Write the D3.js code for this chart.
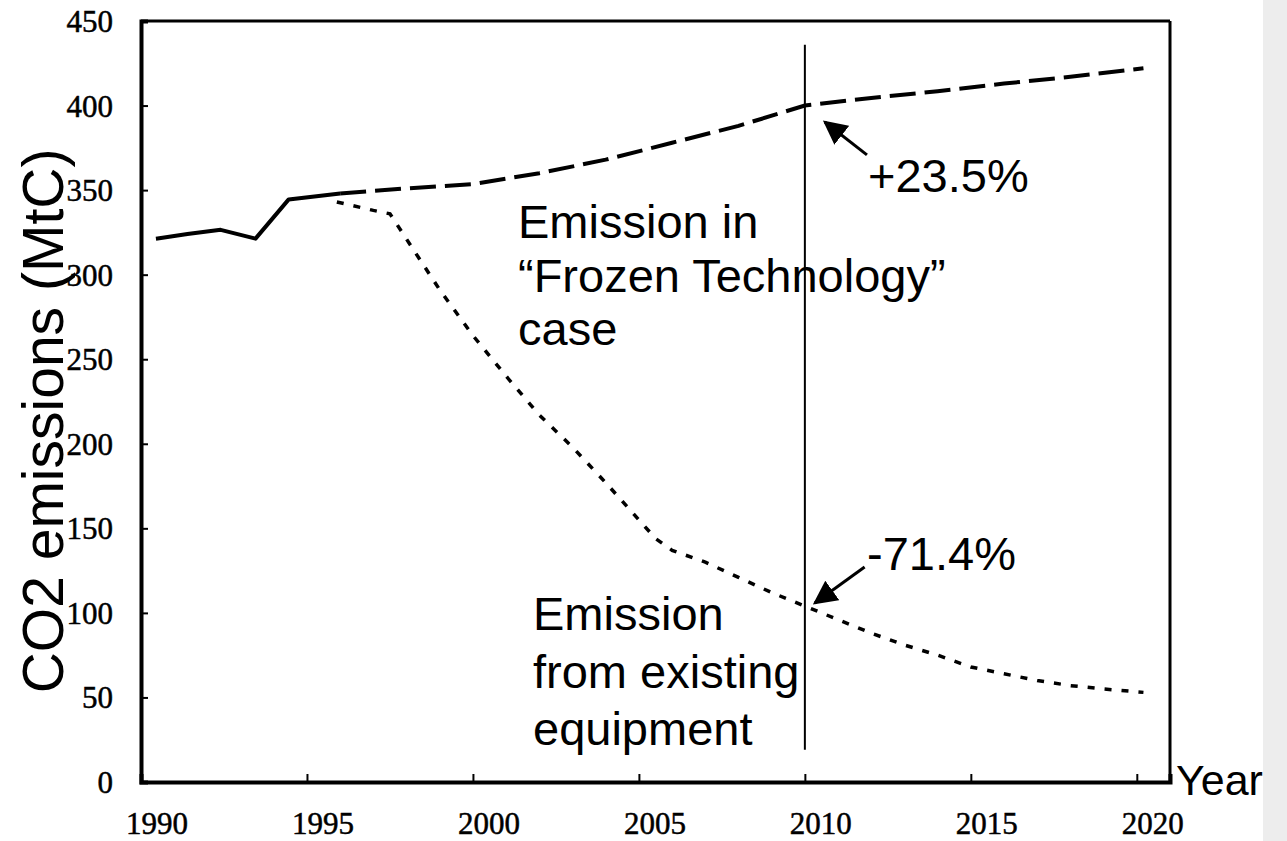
<!DOCTYPE html>
<html>
<head>
<meta charset="utf-8">
<script src="https://cdn.jsdelivr.net/npm/d3@7.9.0/dist/d3.min.js"></script>
<style>
  body { margin: 0; background: #fff; }
  svg { display: block; }
  .serif { font-family: "Liberation Serif", "DejaVu Serif", serif; }
  .sans { font-family: "Liberation Sans", Arial, sans-serif; }
</style>
</head>
<body>
<div id="viz"></div>
<script>
// Values
const actualYears  = [1990.45, 1991.4, 1992.4, 1993.45, 1994.45, 1996.0];
const actualValues = [321.3, 324, 326.5, 321.3, 344.5, 348];

const frozenYears  = [1996, 1998, 2000, 2002, 2004, 2006, 2008, 2010, 2012, 2014, 2016, 2018, 2020.2];
const frozenValues = [348, 351, 353.5, 360, 368, 378, 388, 400, 404.5, 408.5, 413, 417, 422];

const existingYears  = [1995.9, 1997, 1997.5, 1998, 1999, 2000, 2001, 2002, 2003, 2004, 2005, 2005.5,
                        2006, 2007, 2008, 2009, 2010, 2011, 2012, 2013, 2014, 2015, 2016, 2017, 2018, 2019, 2020.2];
const existingValues = [343, 338, 336, 321, 291, 264, 240, 217, 198, 177, 155, 144,
                        137, 130, 121, 112, 104, 96, 88, 81, 75, 68, 64, 60, 57, 55, 53];

const xTicks = [1990, 1995, 2000, 2005, 2010, 2015, 2020];
const yTicks = [0, 50, 100, 150, 200, 250, 300, 350, 400, 450];

const W = 1287, H = 841;
const svg = d3.select("#viz").append("svg").attr("width", W).attr("height", H);

// grey strip at the right edge of the slide
svg.append("rect").attr("x", 1263).attr("y", 0).attr("width", W - 1263).attr("height", H)
  .attr("fill", "#ededed");

const x = d3.scaleLinear().domain([1990, 2021]).range([141, 1170]);
const y = d3.scaleLinear().domain([0, 450]).range([782, 21]);

const toPts = (xs, vs) => xs.map((d, i) => ({ year: d, value: vs[i] }));
const line = d3.line().x(d => x(d.year)).y(d => y(d.value));

// frame
const frame = svg.append("g").attr("stroke", "#000").attr("fill", "none");
frame.append("line").attr("x1", x.range()[0]).attr("x2", x.range()[1])
  .attr("y1", y(450)).attr("y2", y(450)).attr("stroke-width", 3);
frame.append("line").attr("x1", x.range()[1]).attr("x2", x.range()[1])
  .attr("y1", y(450)).attr("y2", y(0)).attr("stroke-width", 3);

// axes, ticks pointing inward
const xAxis = svg.append("g").attr("transform", `translate(0,${y(0)})`)
  .call(d3.axisTop(x).tickValues(xTicks).tickSize(8).tickFormat(""));
xAxis.select(".domain").attr("stroke-width", 4);
xAxis.selectAll(".tick line").attr("stroke-width", 2);

const yAxis = svg.append("g").attr("transform", `translate(${x(1990)},0)`)
  .call(d3.axisRight(y).tickValues(yTicks).tickSize(7).tickFormat(""));
yAxis.select(".domain").attr("stroke-width", 4);
yAxis.selectAll(".tick line").attr("stroke-width", 2);

// tick labels
svg.append("g").selectAll("text").data(xTicks).join("text")
  .attr("class", "serif")
  .attr("x", d => x(d) + 16).attr("y", 834)
  .attr("text-anchor", "middle")
  .attr("font-size", 31)
  .attr("stroke", "#000").attr("stroke-width", 0.5)
  .text(d => d);

svg.append("g").selectAll("text").data(yTicks).join("text")
  .attr("class", "serif")
  .attr("x", 113).attr("y", d => y(d) + 11)
  .attr("text-anchor", "end")
  .attr("font-size", 31)
  .attr("stroke", "#000").attr("stroke-width", 0.5)
  .text(d => d);

// series
svg.append("path").datum(toPts(actualYears, actualValues))
  .attr("fill", "none").attr("stroke", "#000").attr("stroke-width", 4)
  .attr("stroke-linejoin", "round").attr("d", line);

svg.append("path").datum(toPts(frozenYears, frozenValues))
  .attr("fill", "none").attr("stroke", "#000").attr("stroke-width", 4)
  .attr("stroke-dasharray", "26,9").attr("d", line);

svg.append("path").datum(toPts(existingYears, existingValues))
  .attr("fill", "none").attr("stroke", "#000").attr("stroke-width", 3.5)
  .attr("stroke-dasharray", "7,10").attr("d", line);

// 2010 marker line
svg.append("line")
  .attr("x1", x(2010)).attr("x2", x(2010))
  .attr("y1", y(436)).attr("y2", y(19))
  .attr("stroke", "#000").attr("stroke-width", 2);

// arrows
svg.append("defs").append("marker")
  .attr("id", "head").attr("viewBox", "0 0 10 10")
  .attr("refX", 9).attr("refY", 5)
  .attr("markerWidth", 8).attr("markerHeight", 8)
  .attr("markerUnits", "strokeWidth")
  .attr("orient", "auto")
  .append("path").attr("d", "M0,0 L10,5 L0,10 Z").attr("fill", "#000");

const arrows = [
  { from: [2011.87, 370.8], to: [2010.6, 390.3] },
  { from: [2011.8, 127.1], to: [2010.3, 105.8] }
];
svg.append("g").selectAll("line").data(arrows).join("line")
  .attr("x1", d => x(d.from[0])).attr("y1", d => y(d.from[1]))
  .attr("x2", d => x(d.to[0])).attr("y2", d => y(d.to[1]))
  .attr("stroke", "#000").attr("stroke-width", 3)
  .attr("marker-end", "url(#head)");

// annotation text
function label(lines, x0, y0, step, size) {
  const t = svg.append("text").attr("class", "sans").attr("font-size", size).attr("fill", "#000");
  lines.forEach((s, i) => t.append("tspan").attr("x", x0).attr("y", y0 + i * step).text(s));
}
label(["Emission in", "\u201cFrozen Technology\u201d", "case"], 518, 238, 53.5, 47);
label(["Emission", "from existing", "equipment"], 533, 630, 57.5, 47);
label(["+23.5%"], 868, 192, 0, 47);
label(["-71.4%"], 867, 570, 0, 47);
label(["Year"], 1176, 795, 0, 43);

// y axis title
svg.append("text")
  .attr("class", "sans")
  .attr("transform", "translate(63,421) rotate(-90)")
  .attr("text-anchor", "middle")
  .attr("font-size", 57)
  .text("CO2 emissions (MtC)");
</script>
</body>
</html>
